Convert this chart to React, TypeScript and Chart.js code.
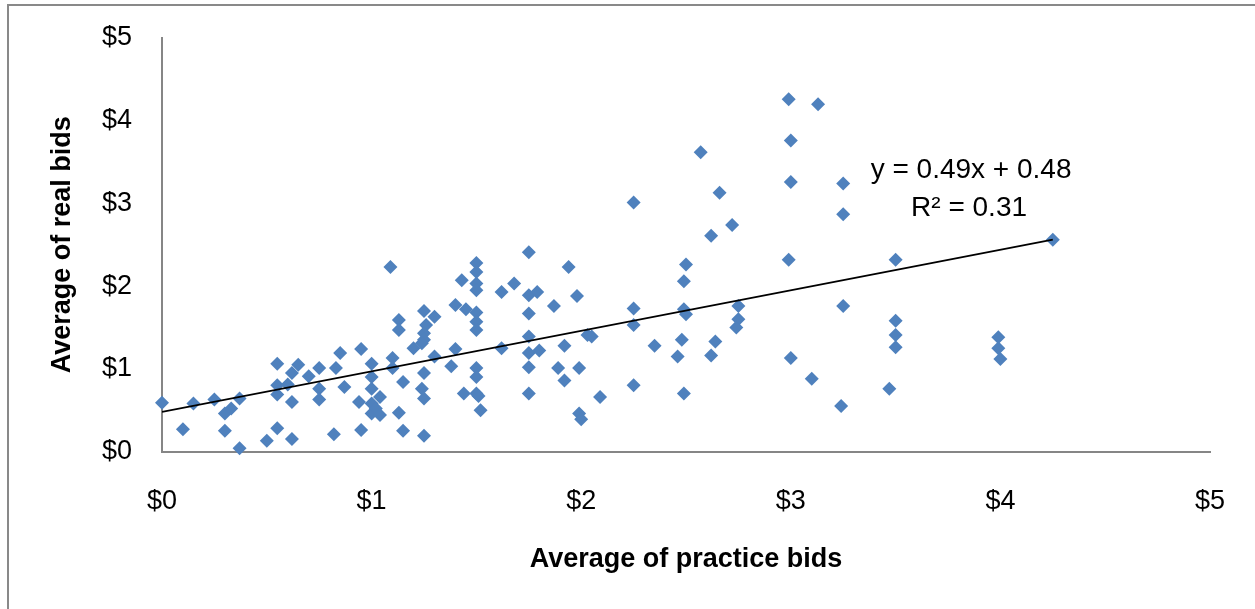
import React, { useEffect, useRef } from "react";
import { Chart, registerables } from "chart.js";

Chart.register(...registerables);

// Average of practice bids (x) and average of real bids (y), in dollars
const practiceBids: number[] = [
  0.0, 0.1, 0.15, 0.25, 0.3, 0.3, 0.33, 0.37, 0.37, 0.5,
  0.55, 0.55, 0.55, 0.55, 0.6, 0.62, 0.62, 0.62, 0.65, 0.7,
  0.75, 0.75, 0.75, 0.82, 0.83, 0.85, 0.87,
  0.95, 0.94, 0.95, 1.0, 1.0, 1.0, 1.0, 1.0, 1.02, 1.04, 1.04,
  1.09, 1.1, 1.1, 1.13, 1.13, 1.15, 1.13, 1.15, 1.2, 1.25,
  1.26, 1.25, 1.25, 1.24, 1.3, 1.3, 1.25, 1.24, 1.25, 1.25,
  1.38, 1.4, 1.4, 1.43, 1.45, 1.44, 1.5, 1.5, 1.5, 1.5,
  1.5, 1.5, 1.5, 1.5, 1.5, 1.5, 1.51, 1.52, 1.62, 1.68,
  1.62, 1.75, 1.75, 1.75, 1.75, 1.75, 1.75, 1.75, 1.79,
  1.94, 1.8, 1.87, 1.98, 2.03, 2.05, 1.92, 1.89, 1.99, 1.92,
  2.09, 1.99, 2.0, 2.25, 2.25, 2.25, 2.25, 2.35, 2.66, 2.72,
  2.62, 2.5, 2.49, 2.49, 2.5, 2.48, 2.46, 2.49, 2.64, 2.62,
  2.75, 2.75, 2.74, 2.57,
  2.99, 3.13, 3.0, 3.0, 3.25, 3.25, 2.99, 3.5, 4.25, 3.25,
  3.5, 3.5, 3.5, 3.99, 3.99, 4.0, 3.0, 3.1, 3.24, 3.47,
];

const realBids: number[] = [
  0.59, 0.27, 0.58, 0.63, 0.25, 0.46, 0.52, 0.04, 0.64, 0.13,
  1.06, 0.8, 0.69, 0.28, 0.81, 0.15, 0.6, 0.95, 1.05, 0.91,
  1.01, 0.76, 0.63, 0.21, 1.01, 1.19, 0.78,
  1.24, 0.6, 0.26, 1.06, 0.9, 0.76, 0.58, 0.46, 0.52, 0.66, 0.44,
  2.23, 1.13, 1.01, 1.59, 1.47, 0.84, 0.47, 0.25, 1.25, 1.7,
  1.53, 1.43, 1.35, 1.31, 1.63, 1.15, 0.95, 0.76, 0.64, 0.19,
  1.03, 1.77, 1.24, 2.07, 1.72, 0.7, 2.28, 2.17, 2.03, 1.95,
  1.68, 1.57, 1.47, 1.01, 0.9, 0.7, 0.67, 0.5, 1.93, 2.03,
  1.25, 2.41, 1.89, 1.67, 1.39, 1.19, 1.02, 0.7, 1.93,
  2.23, 1.22, 1.76, 1.88, 1.41, 1.39, 1.28, 1.01, 1.01, 0.86,
  0.66, 0.46, 0.39, 3.01, 1.73, 1.53, 0.8, 1.28, 3.13, 2.74,
  2.61, 2.26, 2.06, 1.72, 1.66, 1.35, 1.15, 0.7, 1.33, 1.16,
  1.76, 1.6, 1.5, 3.62,
  4.26, 4.2, 3.76, 3.26, 3.24, 2.87, 2.32, 2.32, 2.56, 1.76,
  1.58, 1.41, 1.26, 1.38, 1.25, 1.12, 1.13, 0.88, 0.55, 0.76,
];

const axisTicks: number[] = [0, 1, 2, 3, 4, 5];
const trendSlope = 0.49;
const trendIntercept = 0.48;
const rSquared = 0.31;
const xTitle = "Average of practice bids";
const yTitle = "Average of real bids";

const FONT = "'Liberation Sans', Arial, sans-serif";
const W = 1255;
const H = 609;

export default function App() {
  const ref = useRef<HTMLCanvasElement | null>(null);

  useEffect(() => {
    if (!ref.current) return;
    const points = practiceBids.map((x, i) => ({ x, y: realBids[i] }));
    const maxX = Math.max(...practiceBids);
    const minX = Math.min(...practiceBids);
    const trend = [
      { x: minX, y: trendSlope * minX + trendIntercept },
      { x: maxX, y: trendSlope * maxX + trendIntercept },
    ];

    const frame = {
      id: "frame",
      beforeDraw(chart: any) {
        const c = chart.ctx;
        c.save();
        c.strokeStyle = "#898989";
        c.lineWidth = 2;
        c.beginPath();
        c.moveTo(8, 4);
        c.lineTo(8, H);
        c.moveTo(7, 5);
        c.lineTo(W, 5);
        c.stroke();
        c.restore();
      },
    };

    const equation = {
      id: "equation",
      afterDatasetsDraw(chart: any) {
        const c = chart.ctx;
        const xs = chart.scales.x;
        const ys = chart.scales.y;
        const cx = xs.getPixelForValue(3.86);
        const cy = ys.getPixelForValue(3.4);
        c.save();
        c.fillStyle = "#000";
        c.font = `28px ${FONT}`;
        c.textAlign = "center";
        c.textBaseline = "middle";
        const sign = trendIntercept >= 0 ? "+" : "-";
        c.fillText(
          `y = ${trendSlope.toFixed(2)}x ${sign} ${Math.abs(trendIntercept).toFixed(2)}`,
          cx,
          cy
        );
        c.fillText(`R\u00B2 = ${rSquared.toFixed(2)}`, cx - 2, cy + 38);
        c.restore();
      },
    };

    const zeroPad = (s: any) => {
      s.paddingTop = 0;
      s.paddingBottom = 0;
      s.paddingLeft = 0;
      s.paddingRight = 0;
    };

    const chart = new Chart(ref.current, {
      type: "scatter",
      data: {
        datasets: [
          {
            label: "bids",
            data: points,
            pointStyle: "rectRot",
            pointRadius: 7,
            pointBackgroundColor: "#4F81BD",
            pointBorderColor: "#4F81BD",
            pointBorderWidth: 0,
            clip: false,
            order: 2,
          } as any,
          {
            type: "line",
            label: "trend",
            data: trend,
            borderColor: "#000000",
            borderWidth: 1.8,
            pointRadius: 0,
            fill: false,
            order: 1,
          } as any,
        ],
      },
      options: {
        responsive: false,
        animation: false,
        devicePixelRatio: 1,
        layout: { autoPadding: false, padding: { top: 38, right: 45, left: 0, bottom: 0 } },
        plugins: {
          legend: { display: false },
          tooltip: { enabled: false },
        },
        scales: {
          x: {
            type: "linear",
            min: 0,
            max: 5,
            afterBuildTicks: (s: any) => {
              s.ticks = axisTicks.map((v) => ({ value: v }));
            },
            grid: { display: false, drawTicks: false },
            border: { display: true, color: "#868686", width: 2 },
            ticks: {
              padding: 34,
              color: "#000",
              font: { family: FONT, size: 27 },
              callback: (v: any) => `$${v}`,
            },
            title: {
              display: true,
              text: xTitle,
              color: "#000",
              font: { family: FONT, size: 27, weight: "bold" },
              padding: { top: 0, bottom: 33 },
            },
            afterFit: (s: any) => {
              s.height = H - 451.5;
              zeroPad(s);
            },
          },
          y: {
            type: "linear",
            min: 0,
            max: 5,
            afterBuildTicks: (s: any) => {
              s.ticks = axisTicks.map((v) => ({ value: v }));
            },
            grid: { display: false, drawTicks: false },
            border: { display: true, color: "#868686", width: 2 },
            ticks: {
              padding: 30,
              color: "#000",
              font: { family: FONT, size: 27 },
              callback: (v: any) => `$${v}`,
            },
            title: {
              display: true,
              text: yTitle,
              color: "#000",
              font: { family: FONT, size: 27, weight: "bold" },
              padding: { top: 46, bottom: 0 },
            },
            afterFit: (s: any) => {
              s.width = 162;
              zeroPad(s);
            },
          },
        },
      } as any,
      plugins: [frame, equation],
    });

    return () => chart.destroy();
  }, []);

  return (
    <canvas
      ref={ref}
      width={W}
      height={H}
      style={{ position: "fixed", left: 0, top: 0, width: W, height: H }}
    />
  );
}
